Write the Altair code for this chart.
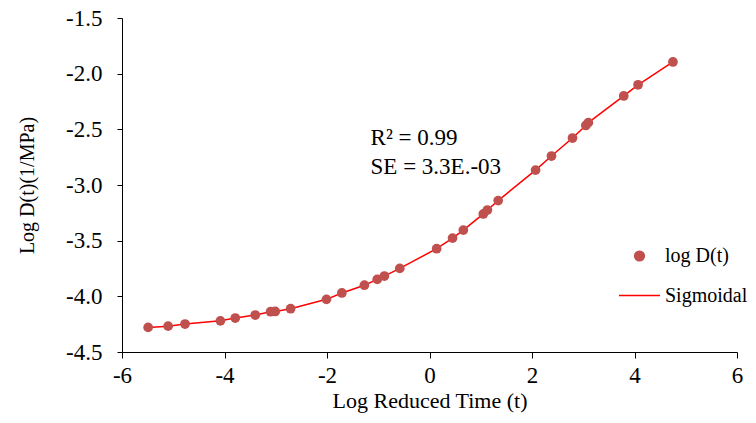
import altair as alt
import pandas as pd

# Data
log_t = [-5.49, -5.10, -4.77, -4.08, -3.79, -3.40, -3.10, -3.01, -2.71, -2.01,
         -1.71, -1.27, -1.02, -0.88, -0.58, 0.14, 0.45, 0.66, 1.05, 1.13,
         1.34, 2.07, 2.38, 2.79, 3.05, 3.10, 3.79, 4.07, 4.75]
log_d = [-4.279, -4.268, -4.249, -4.220, -4.195, -4.168, -4.138, -4.136, -4.111, -4.027,
         -3.970, -3.900, -3.848, -3.818, -3.749, -3.572, -3.477, -3.405, -3.260, -3.225,
         -3.140, -2.866, -2.740, -2.578, -2.465, -2.440, -2.200, -2.100, -1.895]

series_names = ["log D(t)", "Sigmoidal"]
series_colors = ["#C0504D", "#FF0000"]
series_shapes = ["circle", "stroke"]
series_sizes = [95, 1681]

x_ticks = [-6, -4, -2, 0, 2, 4, 6]
y_ticks = [-4.5, -4.0, -3.5, -3.0, -2.5, -2.0, -1.5]

ann_text = ["R\u00b2 = 0.99", "SE = 3.3E.-03"]
ann_x = [-1.15, -1.15]
ann_y = [-2.575, -2.835]

FONT = "Liberation Serif"
FIX_MINUS = "replace(datum.label, '\u2212', '-')"

pts = pd.DataFrame({"t": log_t, "d": log_d, "series": series_names[0]})
fit = pd.DataFrame({"t": log_t, "d": log_d, "series": series_names[1]})
ann = pd.DataFrame({"t": ann_x, "d": ann_y, "txt": ann_text})

x_enc = alt.X("t:Q", scale=alt.Scale(domain=[-6, 6], nice=False, zero=False),
              axis=alt.Axis(title="Log Reduced Time (t)", values=x_ticks, format="d",
                            labelExpr=FIX_MINUS, labelFont=FONT, titleFont=FONT,
                            grid=False, tickSize=6, labelPadding=6, titlePadding=3,
                            labelFontSize=23, titleFontSize=22))
y_enc = alt.Y("d:Q", scale=alt.Scale(domain=[-4.5, -1.5], nice=False, zero=False),
              axis=alt.Axis(title="Log D(t)(1/MPa)", values=y_ticks, format=".1f",
                            labelExpr=FIX_MINUS, labelFont=FONT, titleFont=FONT,
                            grid=False, tickSize=5, labelPadding=15, titlePadding=28,
                            labelFontSize=23, titleFontSize=20))

legend = alt.Legend(
    title=None, orient="none", legendX=496, legendY=228, padding=0,
    labelFont=FONT, labelFontSize=20, labelColor="#000000", labelOffset=4,
    rowPadding=8, labelLimit=200, symbolStrokeWidth=1.5, symbolOpacity=1,
)

color_scale = alt.Scale(domain=series_names, range=series_colors)

line = alt.Chart(fit).mark_line(strokeWidth=1.5).encode(
    x=x_enc, y=y_enc,
    color=alt.Color("series:N", scale=color_scale, legend=legend),
)

points = alt.Chart(pts).mark_point(filled=True, opacity=1).encode(
    x=x_enc, y=y_enc,
    color=alt.Color("series:N", scale=color_scale, legend=legend),
    shape=alt.Shape("series:N", scale=alt.Scale(domain=series_names, range=series_shapes), legend=legend),
    size=alt.Size("series:N", scale=alt.Scale(domain=series_names, range=series_sizes), legend=legend),
)

text = alt.Chart(ann).mark_text(align="left", baseline="middle", font=FONT,
                                fontSize=23, color="#000000").encode(
    x="t:Q", y="d:Q", text="txt:N")

chart = alt.layer(line, points, text).properties(
    width=615, height=334,
    autosize=alt.AutoSizeParams(type="none"),
    padding={"left": 114, "top": 10, "right": 11, "bottom": 63},
).configure_view(stroke="transparent").configure_axis(
    labelFont=FONT, titleFont=FONT, labelColor="#000000", titleColor="#000000",
    domainColor="#000000", tickColor="#000000", titleFontWeight="normal",
).configure_axisX(labelFlush=False)

chart.save("out.html", embed_options={"renderer": "svg", "actions": False})
